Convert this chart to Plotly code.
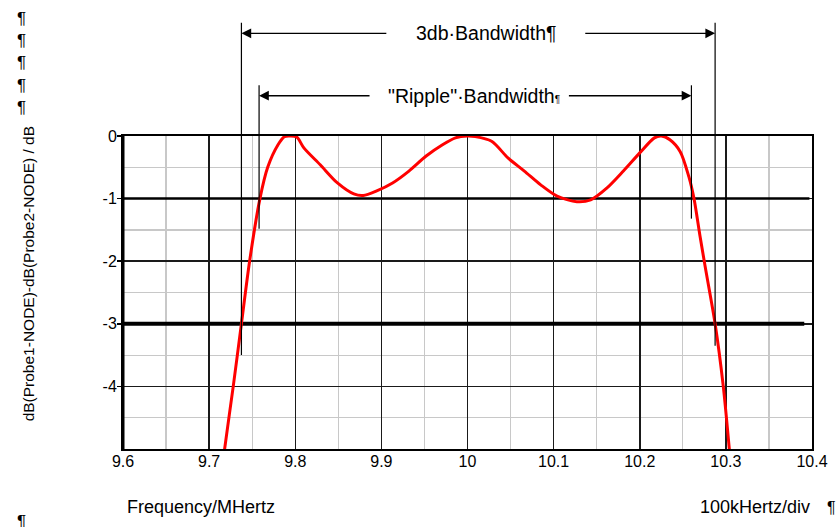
import plotly.graph_objects as go

# ---- data ----
freq_mhz = [9.716, 9.718, 9.728, 9.7375, 9.747, 9.759, 9.768, 9.780, 9.7875, 9.795, 9.802,
            9.810, 9.829, 9.849, 9.868, 9.879, 9.894, 9.913, 9.932, 9.952, 9.971, 9.986,
            10.000, 10.009, 10.028, 10.047, 10.066, 10.085, 10.104, 10.127, 10.143, 10.162,
            10.181, 10.200, 10.217, 10.225, 10.235, 10.247, 10.257, 10.263, 10.270, 10.276,
            10.2875, 10.297, 10.304, 10.306]
gain_db = [-5.25, -5.0, -4.0, -3.0, -2.0, -1.0, -0.5, -0.14, -0.01, 0.0, -0.02,
           -0.19, -0.46, -0.75, -0.925, -0.95, -0.88, -0.75, -0.56, -0.32, -0.14, -0.03,
           0.0, -0.01, -0.085, -0.35, -0.56, -0.78, -0.96, -1.05, -1.02, -0.83,
           -0.56, -0.27, -0.03, 0.0, -0.06, -0.25, -0.65, -1.0, -1.6, -2.09,
           -3.0, -4.0, -5.0, -5.3]

x_ticks = [9.6, 9.7, 9.8, 9.9, 10.0, 10.1, 10.2, 10.3, 10.4]
x_tick_labels = ["9.6", "9.7", "9.8", "9.9", "10", "10.1", "10.2", "10.3", "10.4"]
y_ticks = [0, -1, -2, -3, -4]
y_tick_labels = ["0", "-1", "-2", "-3", "-4"]

bw3_edges = [9.7375, 10.2875]      # -3 dB crossing points
ripple_edges = [9.758, 10.260]     # -1 dB crossing points
ripple_level = -1
bw3_level = -3

FONT = "Liberation Sans, Arial, sans-serif"
W, H = 840, 527
# plot area in page pixels: x 123..822, y 136..449
L, R, T, B = 123, W - 822, 136, H - 449
YMIN, YMAX = -5, 0


def py(db):  # dB value -> paper y (allows values outside the axis range)
    return (db - YMIN) / (YMAX - YMIN)


def pxp(x):  # page pixel x -> paper x
    return (x - L) / (W - L - R)


def pyp(y):  # page pixel y -> paper y
    return (H - B - y) / (H - T - B)


fig = go.Figure()
fig.add_trace(go.Scatter(x=freq_mhz, y=gain_db, mode="lines",
                         line=dict(color="#ff0000", width=3, shape="spline", smoothing=0.8),
                         hoverinfo="skip", showlegend=False))

shapes = []
# thick marker lines at -1 dB and -3 dB
shapes.append(dict(type="line", xref="x", yref="y", x0=9.6, x1=10.397, y0=ripple_level, y1=ripple_level,
                   line=dict(color="black", width=2.5), layer="between"))
shapes.append(dict(type="line", xref="x", yref="y", x0=9.6, x1=10.391, y0=bw3_level, y1=bw3_level,
                   line=dict(color="black", width=4), layer="between"))
# left axis thick line
shapes.append(dict(type="line", xref="paper", yref="paper", x0=0, x1=0, y0=0, y1=1,
                   line=dict(color="black", width=3), layer="above"))
# vertical dimension lines
shapes.append(dict(type="line", xref="x", yref="paper", x0=bw3_edges[0], x1=bw3_edges[0],
                   y0=py(-3.5), y1=py(1.81), line=dict(color="black", width=1.2), layer="above"))
shapes.append(dict(type="line", xref="x", yref="paper", x0=bw3_edges[1], x1=bw3_edges[1],
                   y0=py(-3.35), y1=py(1.81), line=dict(color="black", width=1.2), layer="above"))
shapes.append(dict(type="line", xref="x", yref="paper", x0=ripple_edges[0], x1=ripple_edges[0],
                   y0=py(-1.48), y1=py(0.81), line=dict(color="black", width=1.2), layer="above"))
shapes.append(dict(type="line", xref="x", yref="paper", x0=ripple_edges[1], x1=ripple_edges[1],
                   y0=py(-1.32), y1=py(0.81), line=dict(color="black", width=1.2), layer="above"))

annotations = []


def arrow(tip, tail, level):
    annotations.append(dict(x=tip, y=py(level), xref="x", yref="paper",
                            ax=tail, ay=0, axref="x", ayref="pixel",
                            text="", showarrow=True, arrowhead=2, arrowsize=1.5,
                            arrowwidth=1.3, arrowcolor="black", standoff=0, startstandoff=0))


arrow(bw3_edges[0], 9.9075, 1.64)
arrow(bw3_edges[1], 10.135, 1.64)
arrow(ripple_edges[0], 9.888, 0.643)
arrow(ripple_edges[1], 10.116, 0.643)

annotations.append(dict(x=10.022, y=py(1.64), xref="x", yref="paper", text="3db·Bandwidth¶",
                        xanchor="center", yanchor="middle",
                        showarrow=False, font=dict(family=FONT, size=19.5, color="black")))
annotations.append(dict(x=10.008, y=py(0.643), xref="x", yref="paper",
                        text="\"Ripple\"·Bandwidth<span style='font-size:10px'>¶</span>",
                        xanchor="center", yanchor="middle",
                        showarrow=False, font=dict(family=FONT, size=19.5, color="black")))

annotations.append(dict(x=pxp(125), y=pyp(507), xref="paper", yref="paper", text="Frequency/MHertz",
                        xanchor="left", yanchor="middle", showarrow=False,
                        font=dict(family=FONT, size=18, color="black")))
annotations.append(dict(x=pxp(822), y=pyp(507), xref="paper", yref="paper", text="100kHertz/div",
                        xanchor="right", yanchor="middle", showarrow=False,
                        font=dict(family=FONT, size=18, color="black")))
annotations.append(dict(x=pxp(835), y=pyp(507), xref="paper", yref="paper", text="¶",
                        xanchor="left", yanchor="middle", showarrow=False,
                        font=dict(family=FONT, size=16, color="black")))
annotations.append(dict(x=pxp(27), y=pyp(274), xref="paper", yref="paper",
                        text="dB(Probe1-NODE)-dB(Probe2-NODE) / dB", textangle=-90,
                        xanchor="center", yanchor="middle", showarrow=False,
                        font=dict(family=FONT, size=15.5, color="black")))
for yy in [18, 41, 63, 85, 107, 521]:
    annotations.append(dict(x=pxp(20), y=pyp(yy), xref="paper", yref="paper", text="¶",
                            xanchor="center", yanchor="middle", showarrow=False,
                            font=dict(family=FONT, size=17, color="black")))

fig.update_layout(
    width=W, height=H,
    margin=dict(l=L, r=R, t=T, b=B, pad=0),
    paper_bgcolor="white", plot_bgcolor="white",
    showlegend=False, hovermode=False,
    shapes=shapes, annotations=annotations,
    xaxis=dict(range=[9.6, 10.4], tickvals=x_ticks, ticktext=x_tick_labels,
               showgrid=True, gridcolor="#1a1a1a", gridwidth=1.5,
               minor=dict(dtick=0.05, tick0=9.6, showgrid=True, gridcolor="#c8c8c8", gridwidth=1.2),
               showline=True, linecolor="black", linewidth=2, mirror=True,
               zeroline=False, ticks="", ticklabelstandoff=-3,
               tickfont=dict(family=FONT, size=16, color="black"), fixedrange=True),
    yaxis=dict(range=[YMIN, YMAX], tickvals=y_ticks, ticktext=y_tick_labels,
               showgrid=True, gridcolor="#1a1a1a", gridwidth=1.5,
               minor=dict(dtick=0.5, tick0=0, showgrid=True, gridcolor="#c8c8c8", gridwidth=1.2),
               showline=True, linecolor="black", linewidth=2, mirror=True,
               zeroline=False, ticks="outside", ticklen=4, tickwidth=1.5, tickcolor="black",
               ticklabelstandoff=-3,
               tickfont=dict(family=FONT, size=16, color="black"), fixedrange=True),
)

fig.write_html("out.html", config={"displayModeBar": False, "staticPlot": True},
               post_script="document.body.style.margin='0px';")
